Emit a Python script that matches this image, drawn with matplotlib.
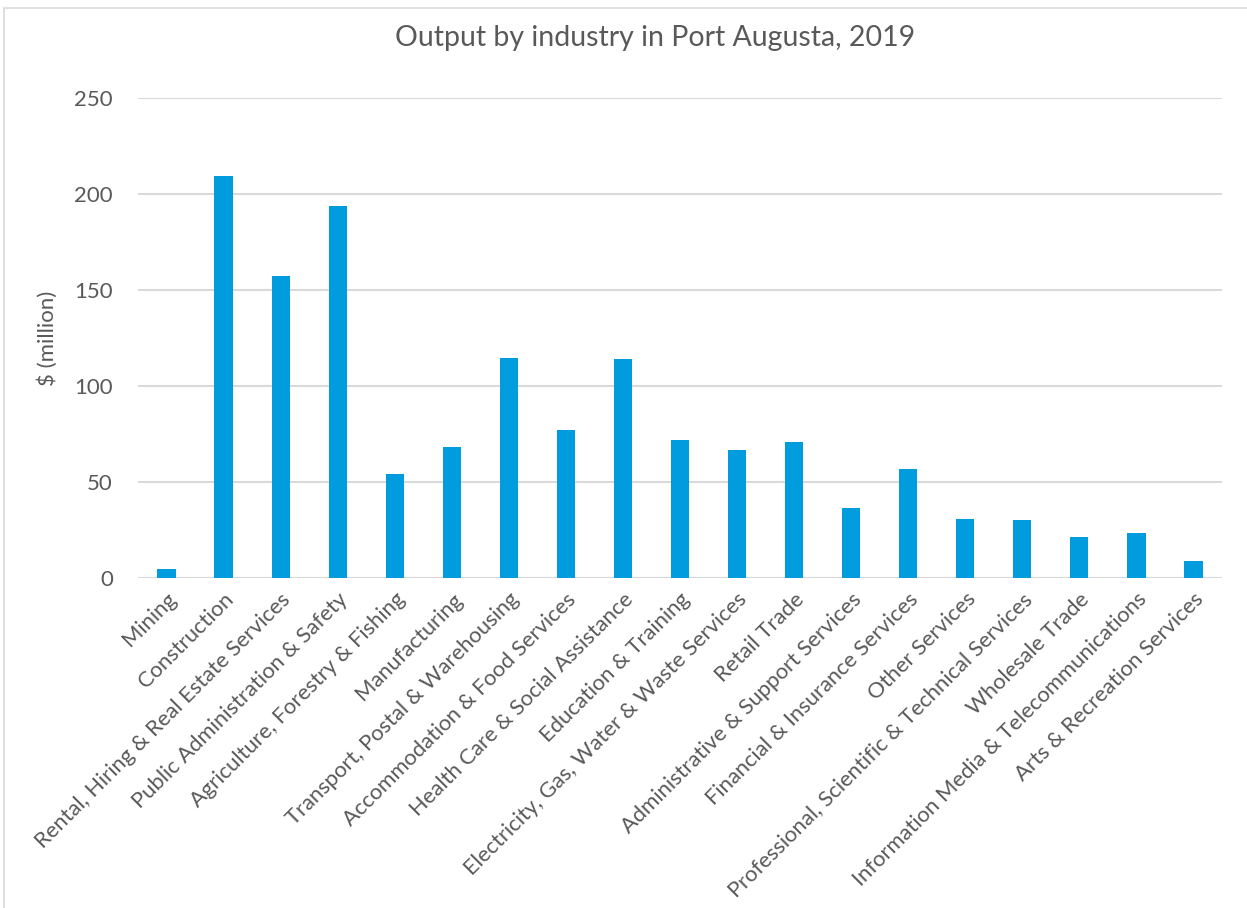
import matplotlib
matplotlib.use("Agg")
import matplotlib.pyplot as plt
from matplotlib.patches import Rectangle

industries = [
    "Mining",
    "Construction",
    "Rental, Hiring & Real Estate Services",
    "Public Administration & Safety",
    "Agriculture, Forestry & Fishing",
    "Manufacturing",
    "Transport, Postal & Warehousing",
    "Accommodation & Food Services",
    "Health Care & Social Assistance",
    "Education & Training",
    "Electricity, Gas, Water & Waste Services",
    "Retail Trade",
    "Administrative & Support Services",
    "Financial & Insurance Services",
    "Other Services",
    "Professional, Scientific & Technical Services",
    "Wholesale Trade",
    "Information Media & Telecommunications",
    "Arts & Recreation Services",
]
output_m = [4.8, 209.4, 157.3, 193.8, 54.4, 68.3, 114.6, 77.1, 114.1, 71.9,
            66.8, 70.8, 36.6, 56.8, 30.8, 30.2, 21.3, 23.5, 8.9]
yticks = [0, 50, 100, 150, 200, 250]

GREY = "#595959"
BLUE = "#009CDE"

plt.rcParams["font.family"] = ["Lato", "DejaVu Sans"]

fig = plt.figure(figsize=(12.47, 9.08), dpi=100)
ax = fig.add_axes([138 / 1247, 1 - 578 / 908, (1222 - 138) / 1247, (578 - 98) / 908])

x = range(len(industries))
ax.bar(x, output_m, width=0.32, color=BLUE, zorder=3)

ax.set_xlim(-0.5, len(industries) - 0.5)
ax.set_ylim(0, 250)
ax.set_yticks(yticks)
ax.set_yticklabels([str(v) for v in yticks], fontsize=16, color=GREY)
ax.set_xticks(list(x))
ax.set_xticklabels(industries, rotation=45, ha="right", va="top",
                   rotation_mode="anchor", fontsize=15.8, color=GREY)
ax.tick_params(axis="both", length=0)
ax.tick_params(axis="y", pad=18)
ax.tick_params(axis="x", pad=8)

ax.grid(axis="y", color="#D9D9D9", linewidth=1.5, zorder=0)
for s in ax.spines.values():
    s.set_visible(False)

ax.set_ylabel("$ (million)", fontsize=16, color=GREY, labelpad=12)
fig.text(0.525, 1 - 38 / 908, "Output by industry in Port Augusta, 2019",
         ha="center", va="center", fontsize=20.5, color=GREY)

# thin chart-area frame
fig.patches.append(Rectangle((4 / 1247, -0.01), 1.02, 1 - 8 / 908 + 0.01,
                             transform=fig.transFigure, fill=False,
                             edgecolor="#D9D9D9", linewidth=1.2))

fig.savefig("out.png", dpi=100)
